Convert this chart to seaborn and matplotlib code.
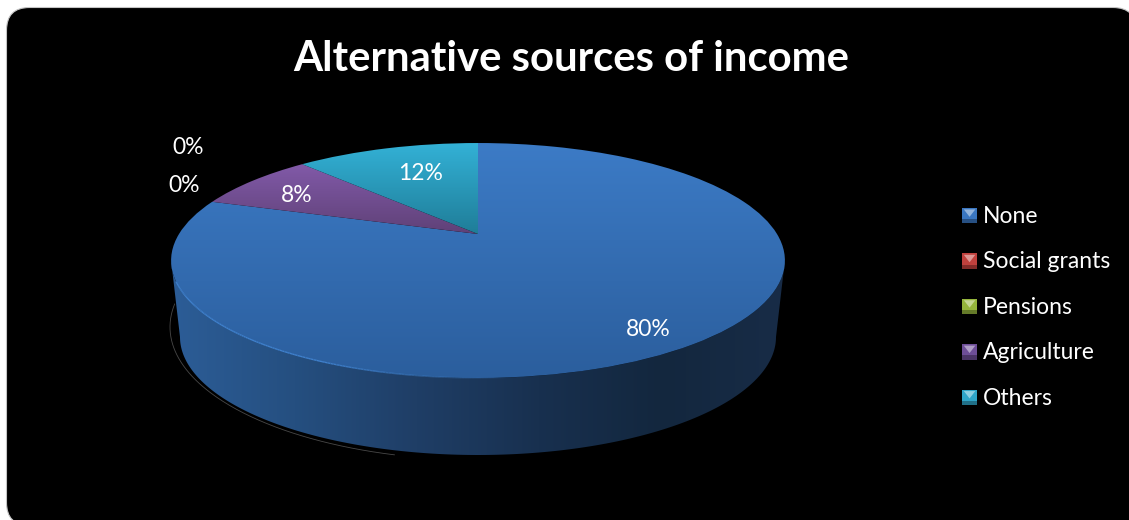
import numpy as np
import seaborn as sns
import matplotlib
matplotlib.use("Agg")
import matplotlib.pyplot as plt
from matplotlib.collections import LineCollection
from matplotlib.colors import LinearSegmentedColormap
from matplotlib.legend_handler import HandlerBase
from matplotlib.patches import FancyBboxPatch, Patch, Polygon, Rectangle
from matplotlib.transforms import Transform

# Chart content
title = "Alternative sources of income"
categories = ["None", "Social grants", "Pensions", "Agriculture", "Others"]
shares = [80, 0, 0, 8, 12]
label_anchor = [(648, 330), (188, 147), (184, 186), (297, 195), (421, 173)]

# (top colour, bottom colour) of the gradient on each slice face
face_colors = [("#3C7BC6", "#2B5E9D"), ("#C0413D", "#9A3230"), ("#95B53C", "#76902F"),
               ("#825AA9", "#5F4177"), ("#33B1D6", "#1F7D98")]
legend_colors = ["#3A76C0", "#C0413D", "#95B53C", "#6E4E98", "#2FA5C8"]
wall_colors = ["#2C5D97", "#254F80", "#1F3E66", "#18304F", "#13273E", "#182C47"]

# Perspective of the disc, in pixels
CX, CY = 478.0, 234.0
KX, KY, TILT = 299.0, 111.5, 0.2255
FLOOR_CX, FLOOR_CY, FLOOR_RX, FLOOR_RY = 478.0, 337.0, 298.0, 118.0


class DiscPerspective(Transform):
    """Maps the unit-circle pie onto the tilted disc in pixel coordinates."""
    input_dims = output_dims = 2
    is_affine = False
    has_inverse = False

    def transform_non_affine(self, values):
        values = np.asarray(values, dtype=float)
        u, v = values[:, 0], values[:, 1]
        w = 1 + TILT * v
        return np.column_stack([CX + KX * u / w, CY - KY * v / w])


class BevelHandler(HandlerBase):
    """Small bevelled square used as the legend key."""

    def create_artists(self, legend, orig, x0, y0, width, height, fontsize, trans):
        color = np.array(matplotlib.colors.to_rgb(orig.get_facecolor()))
        light = color + (1 - color) * 0.45
        dark = color * 0.68
        body = Rectangle((x0, y0), width, height, fc=color, ec="none", transform=trans)
        band = Rectangle((x0, y0), width, height * 0.27, fc=dark, ec="none", transform=trans)
        tip = Polygon([(x0 + width * 0.12, y0 + height * 0.9),
                       (x0 + width * 0.88, y0 + height * 0.9),
                       (x0 + width * 0.5, y0 + height * 0.42)],
                      fc=light, ec="none", transform=trans)
        return [body, band, tip]


sns.set_theme(style="white")
plt.rcParams["font.family"] = ["Lato", "DejaVu Sans"]

fig = plt.figure(figsize=(11.29, 5.2), dpi=100, facecolor="white")
ax = fig.add_axes([0, 0, 1, 1])

wedges, _ = ax.pie(shares, startangle=90, counterclock=False, radius=1,
                   wedgeprops={"linewidth": 0})
ax.set_aspect("auto")
ax.set_xlim(0, 1129)
ax.set_ylim(520, 0)
ax.set_axis_off()

ax.add_patch(FancyBboxPatch((6.5, 7.5), 1129.5, 518,
                            boxstyle="round,pad=0,rounding_size=23",
                            fc="black", ec="#C4C4C4", lw=0.8, zorder=0))

# Faint outline peeking out below the lower-left of the disc
arc = np.linspace(np.radians(190), np.radians(106), 160)
ax.plot(480 + 310 * np.cos(arc), 327 + 133 * np.sin(arc),
        color="#484848", lw=0.6, zorder=1)

perspective = DiscPerspective()
theta = np.linspace(0, 2 * np.pi, 721)
rim = perspective.transform(np.column_stack([np.cos(theta), np.sin(theta)]))

# Side wall: front half of the rim joined to the floor ellipse
front = rim[rim[:, 1] >= rim[:, 1][np.argmin(rim[:, 0])]]
front = front[np.argsort(front[:, 0])]
sweep = np.linspace(0, np.pi, 300)
floor = np.column_stack([FLOOR_CX + FLOOR_RX * np.cos(sweep),
                         FLOOR_CY + FLOOR_RY * np.sin(sweep)])
wall = Polygon(np.vstack([front, floor]), closed=True, fc="none", ec="none", zorder=2)
ax.add_patch(wall)
wall_cmap = LinearSegmentedColormap.from_list("wall", wall_colors)
wall_image = ax.imshow(np.linspace(0, 1, 256)[None, :], extent=(171, 785, 460, 255),
                       cmap=wall_cmap, aspect="auto", zorder=2)
wall_image.set_clip_path(wall)

# Slice faces with a vertical gradient, clipped to each perspective wedge
rows = np.linspace(0, 1, 256)[:, None]
spans = [(143, 378), (143, 234), (143, 234), (163, 234), (143, 234)]
for wedge, pair, span in zip(wedges, face_colors, spans):
    wedge.set_transform(perspective + ax.transData)
    wedge.set_facecolor("none")
    wedge.set_zorder(3)
    cmap = LinearSegmentedColormap.from_list("face", pair)
    image = ax.imshow(rows, extent=(165, 790, span[1], span[0]), cmap=cmap,
                      aspect="auto", zorder=3)
    image.set_clip_path(wedge)

# Lit edge along the lower-left of the rim, fading out towards the centre
lit = front[(front[:, 0] >= 176) & (front[:, 0] <= 520)]
segments = np.stack([lit[:-1], lit[1:]], axis=1)
fade = np.clip((520 - lit[:-1, 0]) / 200, 0, 1)
edge_rgba = np.tile(matplotlib.colors.to_rgba("#3F80CC"), (len(fade), 1))
edge_rgba[:, 3] = fade
ax.add_collection(LineCollection(segments, colors=edge_rgba, linewidths=1.0, zorder=4))

ax.set_xlim(0, 1129)
ax.set_ylim(520, 0)

for share, (x, y) in zip(shares, label_anchor):
    ax.text(x, y, f"{share}%", color="white", fontsize=16.5, ha="center", va="center", zorder=5)

ax.text(571, 59, title, color="white", fontsize=30.2, fontweight="bold",
        ha="center", va="center", zorder=5)

handles = [Patch(facecolor=c, label=name) for c, name in zip(legend_colors, categories)]
legend = ax.legend(handles=handles, loc="upper left", bbox_to_anchor=(962, 206),
                   bbox_transform=ax.transData, frameon=False, fontsize=16.5,
                   labelcolor="white", handlelength=0.66, handleheight=0.66,
                   handletextpad=0.26, labelspacing=1.065, borderpad=0, borderaxespad=0,
                   handler_map={Patch: BevelHandler()})
legend.set_zorder(5)

fig.savefig("out.png", dpi=100, facecolor="white")
